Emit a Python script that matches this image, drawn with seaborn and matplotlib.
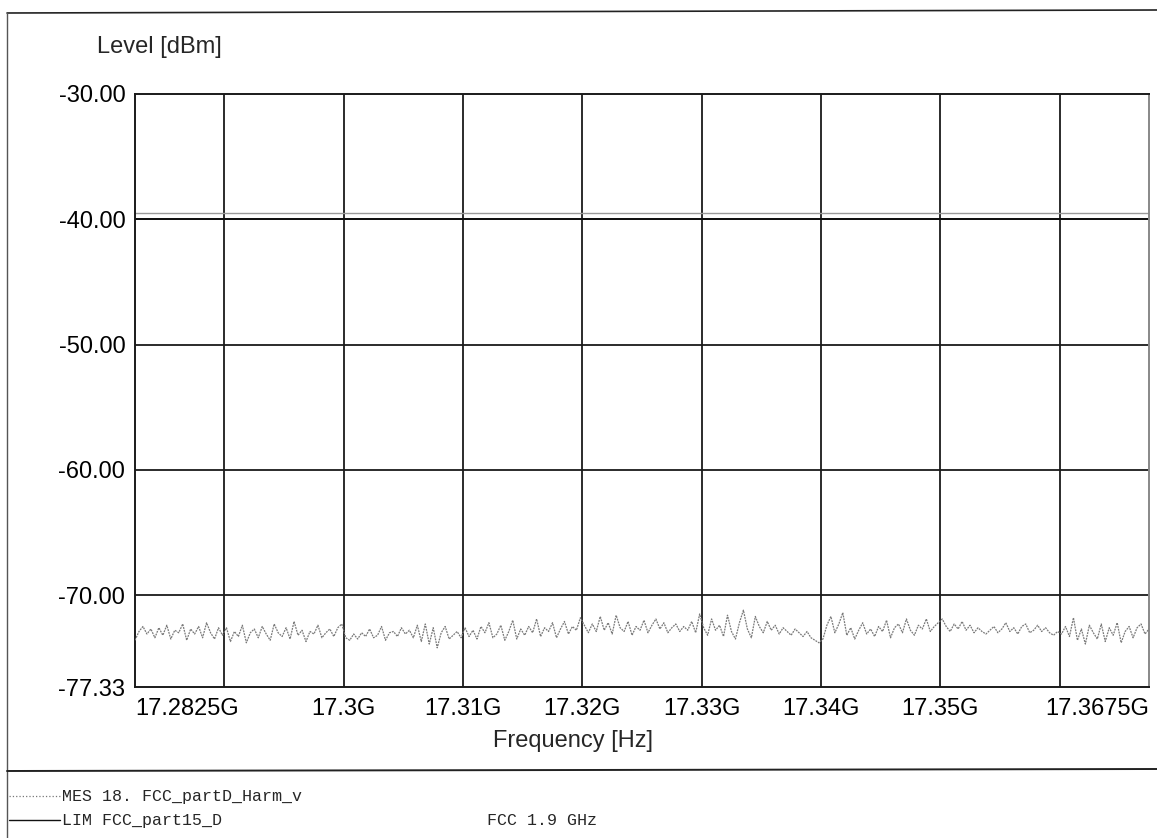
import numpy as np
import pandas as pd
import matplotlib
matplotlib.use("Agg")
import matplotlib.pyplot as plt
from matplotlib.lines import Line2D
import seaborn as sns

# --- sweep setup ---
F_START = 17.2825   # GHz
F_STOP = 17.3675    # GHz

# MES trace (dBm), sweep points evenly spread from F_START to F_STOP
mes_level = [
    -73.6, -72.9, -72.5, -73.1, -72.7, -73.4, -72.6, -73.2, -72.4, -73.5, -72.8, -73.0,
    -72.3, -73.6, -72.7, -73.1, -72.5, -73.4, -72.2, -73.0, -73.5, -72.6, -73.2,
    -72.6, -73.7, -72.9, -73.3, -72.4, -73.8, -73.0, -72.7, -73.4, -72.5, -73.1, -73.6,
    -72.3, -73.0, -73.3, -72.6, -73.5, -72.1, -73.2, -72.8, -73.7, -72.9, -73.1, -72.4,
    -73.4, -73.0, -72.7, -73.3, -72.6, -72.3,
    -73.4, -73.6, -73.1, -73.5, -73.0, -73.3, -72.7, -73.4, -73.2, -72.5, -73.6, -73.0,
    -72.9, -73.3, -72.6, -73.1, -72.8, -73.4, -72.4, -73.7, -72.3, -73.9, -72.6, -74.2,
    -73.0, -72.5, -73.5, -73.2, -72.9, -73.4,
    -72.6, -73.3, -72.8, -73.5, -72.5, -73.0, -72.2, -73.4, -73.1, -72.4, -73.6, -72.9,
    -72.0, -73.5, -72.7, -73.2, -72.5, -73.0, -71.9, -73.3, -72.6, -72.9, -72.2, -73.4,
    -72.7, -72.1, -73.1, -72.5, -72.8, -71.8,
    -72.4, -73.0, -72.3, -72.9, -71.7, -72.8, -72.2, -73.1, -71.6, -72.6, -72.9, -72.1,
    -73.2, -72.5, -72.8, -72.0, -73.0, -72.4, -71.9, -72.7, -72.2, -73.0, -72.6, -72.3,
    -72.9, -72.5, -72.8, -72.1, -73.0, -71.5,
    -72.6, -73.2, -71.9, -72.8, -72.4, -73.3, -71.6, -72.9, -73.5, -72.2, -71.2, -72.7,
    -73.4, -71.7, -72.5, -73.0, -72.1, -72.8, -72.4, -73.1, -72.6, -72.9, -73.2, -72.7,
    -73.0, -73.3, -72.9, -73.4, -73.6, -73.8,
    -73.5, -72.4, -71.7, -73.0, -72.3, -71.4, -73.2, -72.6, -73.5, -72.8, -72.2, -73.1,
    -72.7, -73.3, -72.5, -72.9, -72.0, -73.4, -72.6, -72.3, -73.0, -71.9, -72.8, -73.2,
    -72.4, -72.7, -71.9, -72.9, -72.5, -72.2,
    -71.9, -72.5, -72.9, -72.3, -72.7, -72.1, -72.8, -72.4, -73.0, -72.6, -72.9, -73.1,
    -72.8, -72.5, -73.0, -72.7, -72.2, -72.9, -72.6, -73.1, -72.5, -72.3, -73.0, -72.8,
    -72.4, -72.9, -72.6, -73.0, -73.2, -72.9,
    -73.1, -72.5, -73.3, -71.8, -73.6, -72.7, -73.9, -72.4, -73.0, -73.5, -72.3, -73.7,
    -72.6, -73.2, -72.2, -73.8, -72.9, -72.5, -73.4, -72.6, -72.3, -73.1, -72.7,
]

lim_freq = [F_START, F_STOP]
lim_level = [-40.0, -40.0]
upper_level = [-39.5, -39.5]   # faint gray line just above the limit

y_ticks = [-30.0, -40.0, -50.0, -60.0, -70.0, -77.33]
x_grid = [17.29, 17.30, 17.31, 17.32, 17.33, 17.34, 17.35, 17.36]
x_label_pos = [17.2825, 17.30, 17.31, 17.32, 17.33, 17.34, 17.35, 17.3675]
x_label_txt = ["17.2825G", "17.3G", "17.31G", "17.32G", "17.33G", "17.34G", "17.35G", "17.3675G"]

df = pd.DataFrame({
    "freq": np.linspace(F_START, F_STOP, len(mes_level)),
    "level": mes_level,
})

sns.set_style("white")
plt.rcParams["font.family"] = ["Liberation Sans", "DejaVu Sans"]

W, H = 1157, 838
fig = plt.figure(figsize=(W / 100, H / 100), dpi=100)
ax = fig.add_axes([135 / W, 1 - 687 / H, (1149 - 135) / W, (687 - 94) / H])

# grid first so the traces sit on top
for y in y_ticks[1:-1]:
    ax.axhline(y, color="#1a1a1a", lw=1.3, zorder=1)
for x in x_grid:
    ax.axvline(x, color="#1a1a1a", lw=1.3, zorder=1)

sns.lineplot(data=df, x="freq", y="level", ax=ax, color="#7a7a7a", lw=0.9,
             ls=(0, (1.5, 0.8)), zorder=3)
sns.lineplot(x=lim_freq, y=upper_level, ax=ax, color="#9a9a9a", lw=1.0, zorder=2)
sns.lineplot(x=lim_freq, y=lim_level, ax=ax, color="#111111", lw=1.4, zorder=2)

ax.set_xlim(F_START, F_STOP)
ax.set_ylim(-77.33, -30.0)
ax.set_yticks(y_ticks)
ax.set_yticklabels([f"{v:.2f}" for v in y_ticks])
ax.set_xticks(x_label_pos)
ax.set_xticklabels(x_label_txt)
ax.tick_params(axis="both", length=0, labelsize=17, colors="black")
ax.tick_params(axis="y", pad=7)
ax.tick_params(axis="x", pad=8)
xl = ax.get_xticklabels()
xl[0].set_ha("left")
xl[-1].set_ha("right")
ax.set_xlabel("")
ax.set_ylabel("")
for s in ax.spines.values():
    s.set_visible(True)
    s.set_color("#1a1a1a")
    s.set_linewidth(1.4)
ax.spines["right"].set_color("#888888")

fig.text(97 / W, 1 - 47 / H, "Level [dBm]", fontsize=17, va="center", ha="left")
fig.text(573 / W, 1 - 741 / H, "Frequency [Hz]", fontsize=17, va="center", ha="center")

# outer report frame and legend separator
fig.add_artist(Line2D([7 / W, 1.0], [1 - 13 / H, 1 - 10 / H], color="#222222", lw=1.2))
fig.add_artist(Line2D([7 / W, 7 / W], [0.0, 1 - 13 / H], color="#555555", lw=1.0))
fig.add_artist(Line2D([7 / W, 1.0], [1 - 771 / H, 1 - 769 / H], color="#222222", lw=1.4))

# legend block
mono = ["Liberation Mono", "DejaVu Sans Mono"]
fig.add_artist(Line2D([9 / W, 60 / W], [1 - 796 / H] * 2, color="#777777", lw=0.9, ls=":"))
fig.add_artist(Line2D([9 / W, 60 / W], [1 - 820 / H] * 2, color="#111111", lw=1.0))
fig.text(62 / W, 1 - 796 / H, "MES 18. FCC_partD_Harm_v", family=mono, fontsize=12, va="center")
fig.text(62 / W, 1 - 820 / H, "LIM FCC_part15_D", family=mono, fontsize=12, va="center")
fig.text(487 / W, 1 - 820 / H, "FCC 1.9 GHz", family=mono, fontsize=12, va="center")

fig.savefig("out.png", dpi=100)
